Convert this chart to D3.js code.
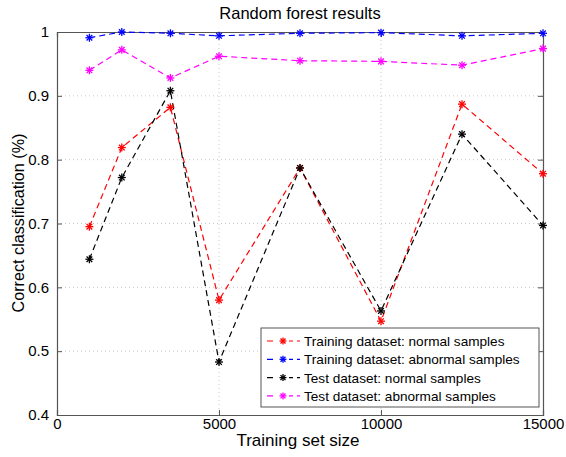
<!DOCTYPE html>
<html><head><meta charset="utf-8">
<script src="https://cdn.jsdelivr.net/npm/d3@7"></script>
<style>body{margin:0;background:#fff}svg{display:block}text{font-family:"Liberation Sans",Arial,sans-serif}</style>
</head><body>
<script>
const trainingSizes = [1000, 2000, 3500, 5000, 7500, 10000, 12500, 15000];
const trainNormal   = [0.695, 0.819, 0.882, 0.580, 0.787, 0.547, 0.887, 0.778];
const trainAbnormal = [0.991, 1.000, 0.998, 0.994, 0.998, 0.999, 0.994, 0.998];
const testNormal    = [0.644, 0.772, 0.908, 0.483, 0.787, 0.563, 0.840, 0.697];
const testAbnormal  = [0.940, 0.972, 0.928, 0.962, 0.955, 0.954, 0.948, 0.974];
const seriesNames = ["Training dataset: normal samples","Training dataset: abnormal samples","Test dataset: normal samples","Test dataset: abnormal samples"];
const seriesColors = ["#ff0000","#0000ff","#000000","#ff00ff"];
const xTicks = [0, 5000, 10000, 15000];
const yTicks = [0.4, 0.5, 0.6, 0.7, 0.8, 0.9, 1];

const W = 566, H = 457;
const m = {l:57, r:23, t:32, b:42};
const svg = d3.select("body").append("svg").attr("width", W).attr("height", H);
const x = d3.scaleLinear().domain([0,15000]).range([m.l, W-m.r]);
const y = d3.scaleLinear().domain([0.4,1]).range([H-m.b, m.t]);

// grid
const g = svg.append("g");
g.selectAll(".vg").data(xTicks.slice(1,-1)).join("line")
  .attr("x1",d=>x(d)).attr("x2",d=>x(d)).attr("y1",y(1)).attr("y2",y(0.4))
  .attr("stroke","#c8c8c8").attr("stroke-width",1).attr("stroke-dasharray","1,3");
g.selectAll(".hg").data(yTicks.slice(1,-1)).join("line")
  .attr("y1",d=>y(d)).attr("y2",d=>y(d)).attr("x1",x(0)).attr("x2",x(15000))
  .attr("stroke","#c8c8c8").attr("stroke-width",1).attr("stroke-dasharray","1,3");

// axes
const axB = svg.append("g").attr("transform",`translate(0,${y(0.4)})`)
  .call(d3.axisBottom(x).tickValues(xTicks).tickSize(-5).tickPadding(3).tickFormat(d3.format("d")));
const axL = svg.append("g").attr("transform",`translate(${x(0)},0)`)
  .call(d3.axisLeft(y).tickValues(yTicks).tickSize(-5).tickPadding(8).tickFormat(d=>d===1?"1":d3.format(".1f")(d)));
const axT = svg.append("g").attr("transform",`translate(0,${y(1)})`)
  .call(d3.axisTop(x).tickValues(xTicks).tickSize(-5).tickFormat(""));
const axR = svg.append("g").attr("transform",`translate(${x(15000)},0)`)
  .call(d3.axisRight(y).tickValues(yTicks).tickSize(-5).tickFormat(""));
[axB,axL,axT,axR].forEach(a=>{
  a.select(".domain").attr("stroke","#555").attr("stroke-width",1.2);
  a.selectAll(".tick line").attr("stroke","#555");
  a.selectAll("text").attr("fill","#000").style("font-size","15px").style("font-family",'"Liberation Sans",Arial,sans-serif');
});

// star marker
function star(sel, cx, cy, r, color){
  const gg = sel.append("g").attr("transform",`translate(${cx},${cy})`).attr("stroke",color).attr("stroke-width",1.3);
  [[0,1],[1,0],[0.7071,0.7071],[0.7071,-0.7071]].forEach(([a,b])=>{
    gg.append("line").attr("x1",-a*r).attr("y1",-b*r).attr("x2",a*r).attr("y2",b*r);
  });
}

const allSeries = [trainNormal, trainAbnormal, testNormal, testAbnormal];
const line = d3.line().x((d,i)=>x(trainingSizes[i])).y(d=>y(d));
allSeries.forEach((vals,k)=>{
  svg.append("path").datum(vals).attr("d",line).attr("fill","none")
    .attr("stroke",seriesColors[k]).attr("stroke-width",1.2).attr("stroke-dasharray","6,4");
});
allSeries.forEach((vals,k)=>{
  vals.forEach((v,i)=>star(svg, x(trainingSizes[i]), y(v), 4, seriesColors[k]));
});

// legend
const lg = svg.append("g");
lg.append("rect").attr("x",261).attr("y",328).attr("width",278).attr("height",79)
  .attr("fill","#fff").attr("stroke","#555").attr("stroke-width",1);
seriesNames.forEach((nm,k)=>{
  const yy = 341 + k*18.3;
  lg.append("line").attr("x1",267).attr("x2",300).attr("y1",yy).attr("y2",yy)
    .attr("stroke",seriesColors[k]).attr("stroke-width",1.2).attr("stroke-dasharray","6,4").attr("stroke-dashoffset",0);
  lg.append("rect").attr("x",277).attr("y",yy-3).attr("width",12).attr("height",6).attr("fill","#fff");
  star(lg, 283, yy, 3.5, seriesColors[k]);
  lg.append("text").attr("x",304).attr("y",yy+5).text(nm).style("font-size","13.6px");
});

// titles
svg.append("text").attr("x",300).attr("y",19).attr("text-anchor","middle").style("font-size","16.5px").text("Random forest results");
svg.append("text").attr("x",298).attr("y",446).attr("text-anchor","middle").style("font-size","17px").text("Training set size");
svg.append("text").attr("transform",`translate(24,223) rotate(-90)`).attr("text-anchor","middle").style("font-size","16.2px").text("Correct classification (%)");
</script>
</body></html>
